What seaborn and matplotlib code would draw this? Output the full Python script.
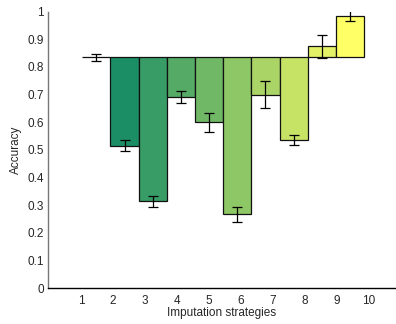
import matplotlib
matplotlib.use("Agg")
import matplotlib.pyplot as plt
import seaborn as sns
import pandas as pd
import numpy as np

# values
strategies = [1, 2, 3, 4, 5, 6, 7, 8, 9, 10]
accuracy = [0.835, 0.515, 0.314, 0.692, 0.599, 0.267, 0.700, 0.536, 0.874, 0.986]
errors = [0.013, 0.019, 0.020, 0.021, 0.033, 0.027, 0.050, 0.019, 0.041, 0.021]
baseline = 0.835
ytick_vals = [0, 0.1, 0.2, 0.3, 0.4, 0.5, 0.6, 0.7, 0.8, 0.9, 1]
ytick_labels = ["0", "0.1", "0.2", "0.3", "0.4", "0.5", "0.6", "0.7", "0.8", "0.9", "1"]

sns.set_style("white")
plt.rcParams['font.family'] = ['Liberation Sans', 'DejaVu Sans']

df = pd.DataFrame({
    'strategy': [str(s) for s in strategies],
    'diff': np.array(accuracy) - baseline,
})
cmap = plt.get_cmap('summer')
colors = [cmap(i / (len(strategies) - 1)) for i in range(len(strategies))]

fig = plt.figure(figsize=(3.96, 3.24), dpi=100)
ax = fig.add_axes([0.121, 0.111, 0.876, 0.853])

sns.barplot(data=df, x='strategy', y='diff', hue='strategy', palette=colors,
            legend=False, width=1.0, errorbar=None, bottom=baseline,
            edgecolor='#111111', linewidth=0.9, saturation=1, ax=ax)

ax.errorbar(np.arange(len(strategies)), accuracy, yerr=errors, fmt='none',
            ecolor='black', elinewidth=0.9, capsize=3.5, capthick=0.9)

ax.set_ylim(0, 1)
ax.set_xlim(-1.72, 10.59)
ax.set_yticks(ytick_vals)
ax.set_yticklabels(ytick_labels)
ax.set_xticks(np.linspace(-0.55, 9.67, 10))
ax.set_xticklabels([str(s) for s in strategies])
ax.tick_params(axis='both', labelsize=8.5, length=2, direction='in', width=0.6)
ax.tick_params(axis='x', length=0, pad=5)
ax.tick_params(axis='y', pad=3)

ax.set_xlabel('Imputation strategies', fontsize=8.5, labelpad=0)
ax.set_ylabel('Accuracy', fontsize=8.5, labelpad=4)

sns.despine(ax=ax)
ax.spines['left'].set_color('#777777')
ax.spines['bottom'].set_color('black')
ax.spines['left'].set_linewidth(1.0)
ax.spines['bottom'].set_linewidth(1.0)

fig.savefig('out.png', dpi=100)
